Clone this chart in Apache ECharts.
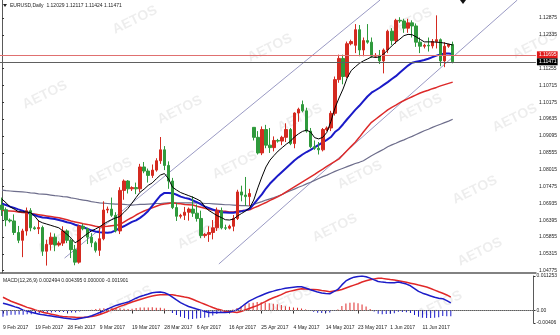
<!DOCTYPE html>
<html><head><meta charset="utf-8">
<script src="https://cdn.jsdelivr.net/npm/echarts@6/dist/echarts.min.js"></script>
<style>html,body{margin:0;padding:0;background:#fff}#c{width:560px;height:335px}</style>
</head><body><div id="c"></div><script>
const dates = ['9 Feb 2017','10 Feb 2017','12 Feb 2017','13 Feb 2017','14 Feb 2017','15 Feb 2017','16 Feb 2017','17 Feb 2017','19 Feb 2017','20 Feb 2017','21 Feb 2017','22 Feb 2017','23 Feb 2017','24 Feb 2017','26 Feb 2017','27 Feb 2017','28 Feb 2017',
'1 Mar 2017','2 Mar 2017','3 Mar 2017','5 Mar 2017','6 Mar 2017','7 Mar 2017','8 Mar 2017','9 Mar 2017','10 Mar 2017','12 Mar 2017','13 Mar 2017','14 Mar 2017','15 Mar 2017','16 Mar 2017','17 Mar 2017','19 Mar 2017','20 Mar 2017','21 Mar 2017','22 Mar 2017','23 Mar 2017','24 Mar 2017','26 Mar 2017','27 Mar 2017','28 Mar 2017','29 Mar 2017','30 Mar 2017','31 Mar 2017',
'2 Apr 2017','3 Apr 2017','4 Apr 2017','5 Apr 2017','6 Apr 2017','7 Apr 2017','9 Apr 2017','10 Apr 2017','11 Apr 2017','12 Apr 2017','13 Apr 2017','14 Apr 2017','16 Apr 2017','17 Apr 2017','18 Apr 2017','19 Apr 2017','20 Apr 2017','21 Apr 2017','23 Apr 2017','24 Apr 2017','25 Apr 2017','26 Apr 2017','27 Apr 2017','28 Apr 2017','30 Apr 2017',
'1 May 2017','2 May 2017','3 May 2017','4 May 2017','5 May 2017','7 May 2017','8 May 2017','9 May 2017','10 May 2017','11 May 2017','12 May 2017','14 May 2017','15 May 2017','16 May 2017','17 May 2017','18 May 2017','19 May 2017','21 May 2017','22 May 2017','23 May 2017','24 May 2017','25 May 2017','26 May 2017','28 May 2017','29 May 2017','30 May 2017','31 May 2017',
'1 Jun 2017','2 Jun 2017','4 Jun 2017','5 Jun 2017','6 Jun 2017','7 Jun 2017','8 Jun 2017','9 Jun 2017','11 Jun 2017','12 Jun 2017','13 Jun 2017','14 Jun 2017','15 Jun 2017','16 Jun 2017','18 Jun 2017','19 Jun 2017'];

const open = [1.0688,1.0673,1.0640,1.0637,1.0600,1.0575,1.0605,1.0670,1.0615,1.0612,
1.0616,1.0540,1.0562,1.0585,1.0560,1.0566,1.0605,1.0575,1.0545,1.0505,
1.0620,1.0612,1.0585,1.0567,1.0543,1.0580,1.0672,1.0675,1.0655,1.0605,
1.0735,1.0765,1.0740,1.0744,1.0740,1.0810,1.0797,1.0783,1.0800,1.0830,
1.0865,1.0815,1.0765,1.0680,1.0652,1.0655,1.0665,1.0675,1.0662,1.0645,
1.0590,1.0594,1.0600,1.0615,1.0670,1.0615,1.0614,1.0620,1.0645,1.0730,
1.0720,1.0715,1.0937,1.0905,1.0855,1.0930,1.0880,1.0872,1.0895,1.0893,
1.0905,1.0930,1.0885,1.0983,1.1010,1.0990,1.0925,1.0875,1.0870,1.0865,
1.0930,1.0935,1.0982,1.1090,1.1158,1.1100,1.1205,1.1200,1.1250,1.1185,
1.1215,1.1210,1.1165,1.1168,1.1150,1.1185,1.1245,1.1215,1.1280,1.1278,
1.1255,1.1272,1.1262,1.1210,1.1197,1.1200,1.1198,1.1212,1.1218,1.1150,
1.1197,1.12029];
const high = [1.0712,1.0680,1.0645,1.0658,1.0621,1.0612,1.0680,1.0678,1.0620,1.0640,
1.0622,1.0577,1.0600,1.0597,1.0572,1.0620,1.0610,1.0580,1.0560,1.0625,
1.0628,1.0615,1.0598,1.0572,1.0615,1.0700,1.0683,1.0712,1.0665,1.0745,
1.0770,1.0768,1.0748,1.0760,1.0820,1.0826,1.0805,1.0818,1.0838,1.0906,
1.0877,1.0828,1.0775,1.0695,1.0660,1.0682,1.0680,1.0716,1.0690,1.0670,
1.0598,1.0620,1.0640,1.0680,1.0680,1.0625,1.0625,1.0656,1.0737,1.0750,
1.0778,1.0740,1.0937,1.0925,1.0940,1.0945,1.0935,1.0908,1.0900,1.0910,
1.0950,1.0935,1.0985,1.1000,1.1023,1.1000,1.0935,1.0895,1.0890,1.0935,
1.0940,1.0990,1.1100,1.1170,1.1170,1.1212,1.1218,1.1268,1.1265,1.1225,
1.1268,1.1225,1.1175,1.1185,1.1190,1.1250,1.1255,1.1285,1.1290,1.1285,
1.1285,1.1280,1.1270,1.1225,1.1205,1.1225,1.1220,1.1296,1.1222,1.1210,
1.1205,1.12117];
const low = [1.0653,1.0620,1.0632,1.0592,1.0566,1.0521,1.0590,1.0604,1.0609,1.0595,
1.0525,1.0494,1.0542,1.0540,1.0555,1.0557,1.0566,1.0518,1.0495,1.0500,
1.0607,1.0563,1.0553,1.0536,1.0525,1.0575,1.0662,1.0650,1.0600,1.0595,
1.0705,1.0725,1.0733,1.0723,1.0730,1.0790,1.0760,1.0775,1.0795,1.0820,
1.0800,1.0740,1.0675,1.0637,1.0645,1.0640,1.0638,1.0650,1.0635,1.0582,
1.0583,1.0570,1.0578,1.0605,1.0610,1.0608,1.0610,1.0604,1.0640,1.0700,
1.0685,1.0685,1.0895,1.0850,1.0848,1.0870,1.0855,1.0860,1.0888,1.0880,
1.0890,1.0880,1.0870,1.0955,1.0985,1.0920,1.0870,1.0865,1.0850,1.0860,
1.0925,1.0925,1.0975,1.1080,1.1075,1.1095,1.1200,1.1175,1.1165,1.1165,
1.1205,1.1160,1.1160,1.1140,1.1110,1.1175,1.1200,1.1205,1.1272,1.1240,
1.1240,1.1225,1.1195,1.1175,1.1190,1.1180,1.1190,1.1190,1.1133,1.1130,
1.1192,1.11424];
const close = [1.0673,1.0640,1.0637,1.0600,1.0575,1.0605,1.0670,1.0615,1.0612,1.0616,
1.0540,1.0562,1.0585,1.0560,1.0566,1.0605,1.0575,1.0545,1.0505,1.0620,
1.0612,1.0585,1.0567,1.0543,1.0580,1.0672,1.0675,1.0655,1.0605,1.0735,
1.0765,1.0740,1.0744,1.0740,1.0810,1.0797,1.0783,1.0800,1.0830,1.0865,
1.0815,1.0765,1.0680,1.0652,1.0655,1.0665,1.0675,1.0662,1.0645,1.0590,
1.0594,1.0600,1.0615,1.0670,1.0615,1.0614,1.0620,1.0645,1.0730,1.0720,
1.0715,1.0725,1.0905,1.0855,1.0930,1.0880,1.0872,1.0895,1.0893,1.0905,
1.0930,1.0885,1.0983,1.0995,1.0990,1.0925,1.0875,1.0870,1.0865,1.0930,
1.0935,1.0982,1.1090,1.1158,1.1100,1.1205,1.1212,1.1250,1.1185,1.1215,
1.1210,1.1165,1.1168,1.1150,1.1185,1.1245,1.1215,1.1280,1.1278,1.1255,
1.1272,1.1262,1.1210,1.1197,1.1200,1.1198,1.1212,1.1218,1.1150,1.1197,
1.1203,1.11471];

const maBlack = [1.0707,1.0695,1.0682,1.0675,1.0667,1.0666,1.0666,1.0664,1.0653,1.0637,
1.0631,1.0627,1.0623,1.0619,1.0615,1.0605,1.0594,1.0582,1.0567,1.0575,
1.0586,1.0596,1.0605,1.0611,1.0618,1.0627,1.0635,1.0641,1.0647,1.0651,
1.0664,1.0677,1.0694,1.0712,1.0729,1.0739,1.0751,1.0759,1.0772,1.0784,
1.0789,1.0772,1.0745,1.0736,1.0728,1.0723,1.0718,1.0713,1.0707,1.0700,
1.0681,1.0670,1.0662,1.0654,1.0648,1.0641,1.0640,1.0643,1.0653,1.0661,
1.0669,1.0679,1.0704,1.0743,1.0778,1.0810,1.0832,1.0847,1.0861,1.0872,
1.0883,1.0892,1.0906,1.0916,1.0924,1.0928,1.0922,1.0904,1.0900,1.0905,
1.0921,1.0956,1.0999,1.1031,1.1060,1.1095,1.1119,1.1131,1.1142,1.1150,
1.1156,1.1163,1.1161,1.1163,1.1172,1.1185,1.1198,1.1210,1.1220,1.1231,
1.1235,1.1234,1.1227,1.1219,1.1211,1.1211,1.1211,1.1210,1.1209,1.1207,
1.1204,1.1201];
const maBlue = [1.0692,1.0688,1.0683,1.0679,1.0674,1.0670,1.0665,1.0660,1.0656,1.0651,
1.0648,1.0647,1.0645,1.0643,1.0640,1.0637,1.0633,1.0630,1.0625,1.0621,
1.0617,1.0612,1.0607,1.0603,1.0601,1.0600,1.0599,1.0601,1.0607,1.0614,
1.0620,1.0627,1.0634,1.0639,1.0647,1.0657,1.0669,1.0685,1.0702,1.0718,
1.0727,1.0727,1.0726,1.0721,1.0715,1.0711,1.0708,1.0703,1.0697,1.0690,
1.0683,1.0678,1.0673,1.0668,1.0665,1.0664,1.0663,1.0663,1.0666,1.0668,
1.0671,1.0676,1.0691,1.0707,1.0722,1.0741,1.0757,1.0770,1.0783,1.0795,
1.0807,1.0819,1.0831,1.0841,1.0850,1.0858,1.0865,1.0873,1.0881,1.0889,
1.0897,1.0906,1.0922,1.0932,1.0947,1.0963,1.0978,1.0993,1.1006,1.1021,
1.1036,1.1048,1.1056,1.1064,1.1073,1.1082,1.1092,1.1101,1.1113,1.1124,
1.1135,1.1144,1.1147,1.1150,1.1153,1.1157,1.1162,1.1167,1.1171,1.1174,
1.1174,1.1172];
const maRed = [1.0671,1.0670,1.0669,1.0668,1.0666,1.0664,1.0663,1.0661,1.0659,1.0657,
1.0655,1.0653,1.0651,1.0649,1.0647,1.0644,1.0641,1.0637,1.0634,1.0631,
1.0628,1.0626,1.0623,1.0620,1.0618,1.0619,1.0620,1.0622,1.0623,1.0625,
1.0633,1.0641,1.0648,1.0656,1.0663,1.0669,1.0674,1.0679,1.0684,1.0689,
1.0691,1.0693,1.0695,1.0693,1.0692,1.0690,1.0689,1.0688,1.0684,1.0681,
1.0678,1.0674,1.0672,1.0671,1.0669,1.0668,1.0666,1.0666,1.0668,1.0670,
1.0671,1.0673,1.0679,1.0684,1.0690,1.0696,1.0703,1.0709,1.0715,1.0722,
1.0730,1.0738,1.0746,1.0754,1.0762,1.0770,1.0778,1.0786,1.0795,1.0803,
1.0812,1.0820,1.0828,1.0836,1.0849,1.0863,1.0876,1.0889,1.0905,1.0922,
1.0938,1.0953,1.0963,1.0973,1.0983,1.0993,1.1001,1.1008,1.1016,1.1023,
1.1029,1.1035,1.1041,1.1047,1.1052,1.1056,1.1061,1.1065,1.1070,1.1074,
1.1078,1.1082];
const maGray = [1.0736,1.0734,1.0733,1.0732,1.0731,1.0730,1.0729,1.0727,1.0726,1.0724,
1.0723,1.0722,1.0720,1.0718,1.0717,1.0715,1.0714,1.0711,1.0709,1.0706,
1.0704,1.0702,1.0699,1.0697,1.0695,1.0694,1.0693,1.0692,1.0691,1.0691,
1.0690,1.0689,1.0688,1.0689,1.0690,1.0690,1.0691,1.0692,1.0693,1.0693,
1.0694,1.0695,1.0695,1.0695,1.0695,1.0695,1.0695,1.0695,1.0695,1.0694,
1.0693,1.0693,1.0692,1.0691,1.0690,1.0689,1.0689,1.0688,1.0687,1.0686,
1.0686,1.0685,1.0690,1.0695,1.0699,1.0704,1.0708,1.0712,1.0717,1.0722,
1.0728,1.0734,1.0739,1.0745,1.0750,1.0756,1.0761,1.0767,1.0773,1.0779,
1.0784,1.0790,1.0796,1.0801,1.0806,1.0811,1.0816,1.0821,1.0825,1.0830,
1.0838,1.0846,1.0853,1.0860,1.0867,1.0875,1.0881,1.0886,1.0892,1.0897,
1.0903,1.0908,1.0914,1.0920,1.0926,1.0931,1.0937,1.0942,1.0947,1.0952,
1.0957,1.0963];

const macdDif = [0.00235,0.00203,0.00164,0.00119,0.00080,0.00013,-0.00019,-0.00055,-0.00087,-0.00119,
-0.00141,-0.00161,-0.00180,-0.00199,-0.00222,-0.00244,-0.00260,-0.00276,-0.00286,-0.00260,
-0.00235,-0.00209,-0.00170,-0.00116,-0.00064,-0.00006,0.00055,0.00113,0.00167,0.00206,
0.00241,0.00276,0.00338,0.00402,0.00460,0.00498,0.00537,0.00579,0.00592,0.00604,
0.00582,0.00524,0.00434,0.00344,0.00260,0.00193,0.00132,0.00090,0.00051,0.00013,
-0.00026,-0.00064,-0.00064,-0.00064,-0.00064,-0.00064,-0.00058,-0.00019,0.00019,0.00106,
0.00212,0.00305,0.00370,0.00437,0.00492,0.00547,0.00595,0.00633,0.00672,0.00698,
0.00727,0.00746,0.00759,0.00772,0.00772,0.00736,0.00688,0.00646,0.00601,0.00572,
0.00559,0.00547,0.00617,0.00688,0.00836,0.00965,0.01035,0.01087,0.01110,0.011253,
0.01100,0.01055,0.01000,0.00948,0.00926,0.00916,0.00907,0.00907,0.00929,0.00894,
0.00862,0.00807,0.00717,0.00624,0.00566,0.00521,0.00476,0.00431,0.00399,0.00386,
0.00322,0.002494];
const macdDea = [0.00434,0.00367,0.00302,0.00254,0.00206,0.00154,0.00103,0.00064,0.00019,-0.00019,
-0.00061,-0.00090,-0.00119,-0.00148,-0.00177,-0.00199,-0.00206,-0.00212,-0.00219,-0.00225,
-0.00222,-0.00209,-0.00193,-0.00170,-0.00129,-0.00080,-0.00029,0.00026,0.00077,0.00135,
0.00180,0.00228,0.00276,0.00318,0.00360,0.00402,0.00440,0.00473,0.00498,0.00514,
0.00514,0.00514,0.00514,0.00489,0.00466,0.00440,0.00418,0.00367,0.00309,0.00257,
0.00206,0.00151,0.00100,0.00051,0.00016,-0.00023,-0.00042,-0.00051,-0.00061,-0.00032,
0.00016,0.00064,0.00113,0.00161,0.00225,0.00289,0.00360,0.00415,0.00466,0.00518,
0.00585,0.00624,0.00656,0.00685,0.00707,0.00701,0.00694,0.00688,0.00675,0.00653,
0.00633,0.00611,0.00633,0.00653,0.00685,0.00736,0.00784,0.00829,0.00874,0.00929,
0.00968,0.01003,0.01029,0.01055,0.01048,0.01029,0.01010,0.00993,0.00971,0.00945,
0.00919,0.00891,0.00862,0.00829,0.00797,0.00765,0.00717,0.00666,0.00614,0.00563,
0.00508,0.004395];
const macdHist = [-0.00199,-0.00164,-0.00138,-0.00135,-0.00126,-0.00141,-0.00122,-0.00119,-0.00106,-0.00100,
-0.00080,-0.00071,-0.00061,-0.00051,-0.00045,-0.00045,-0.00054,-0.00064,-0.00067,-0.00035,
-0.00013,0.00000,0.00023,0.00054,0.00065,0.00074,0.00084,0.00087,0.00090,0.00071,
0.00061,0.00048,0.00062,0.00084,0.00100,0.00096,0.00097,0.00106,0.00094,0.00090,
0.00068,0.00010,-0.00080,-0.00145,-0.00206,-0.00247,-0.00286,-0.00277,-0.00258,-0.00244,
-0.00232,-0.00215,-0.00164,-0.00115,-0.00080,-0.00041,-0.00016,0.00032,0.00080,0.00138,
0.00196,0.00241,0.00257,0.00276,0.00267,0.00258,0.00235,0.00218,0.00206,0.00180,
0.00142,0.00122,0.00103,0.00087,0.00065,0.00035,-0.00006,-0.00042,-0.00074,-0.00081,
-0.00074,-0.00064,-0.00016,0.00035,0.00151,0.00229,0.00251,0.00258,0.00236,0.00196,
0.00132,0.00052,-0.00029,-0.00107,-0.00122,-0.00113,-0.00103,-0.00086,-0.00042,-0.00051,
-0.00057,-0.00084,-0.00145,-0.00205,-0.00231,-0.00244,-0.00241,-0.00235,-0.00215,-0.00177,
-0.00186,-0.001901];

const priceTicks = [1.04775,1.05315,1.05855,1.06395,1.06935,1.07475,1.08015,1.08555,1.09095,1.09635,1.10175,1.10715,1.11255,1.12335,1.12875];
const macdTicks = [-0.00406,0,0.011253];
const macdTickText = ['-0.00406','0.00','0.011253'];
const levelPrice = 1.11695;
const bidPrice = 1.11471;
// trend channel anchors: [bar index, price]
const channelUpper = [[15.4,1.0518],[93.1,1.1345]];
const channelLower = [[53.4,1.0499],[126.9,1.1345]];
const titleText = 'EURUSD,Daily  1.12029 1.12117 1.11424 1.11471';
const macdTitle = 'MACD(12,26,9) 0.002494 0.004395 0.000000 -0.001901';
const PAD = 20;

const cats = dates.concat(Array(PAD).fill(''));
const candles = dates.map((d,i)=>[open[i],close[i],low[i],high[i]]);
const showIdx = (i,v)=> v!=='' && i%8===0;
const FONT = 'Liberation Sans';
const axisCol = '#5a5a5a';

const wm = [];
const wmPos = [[135,20],[270,48],[410,22],[535,45],[45,95],[180,110],[300,118],[420,108],[515,118],
[110,172],[235,165],[360,175],[475,190],[60,240],[200,235],[335,228],[480,252],[130,300],[290,300],[440,305]];
wmPos.forEach(p=>wm.push({type:'text',x:p[0],y:p[1],rotation:0.45,z:-10,silent:true,
  style:{text:'AETOS',fill:'rgba(0,0,0,0.07)',font:'bold 14px "Liberation Sans"',align:'center',verticalAlign:'middle'}}));

const chart = echarts.init(document.getElementById('c'),null,{renderer:'canvas'});
chart.setOption({
  animation:false,
  backgroundColor:'#ffffff',
  textStyle:{fontFamily:FONT},
  grid:[{left:0,right:21,top:0,height:273},{left:0,right:21,top:276,height:47}],
  xAxis:[
    {type:'category',gridIndex:0,data:cats,axisLine:{show:true,lineStyle:{color:axisCol,width:1.5}},axisTick:{show:false},axisLabel:{show:false},splitLine:{show:false}},
    {type:'category',gridIndex:1,data:cats,axisLine:{show:true,lineStyle:{color:axisCol,width:1}},
     axisTick:{show:true,alignWithLabel:true,interval:showIdx,length:3,lineStyle:{color:'#333'}},
     axisLabel:{interval:showIdx,fontSize:5,color:'#222',align:'left',margin:2,fontFamily:FONT},splitLine:{show:false}},
    {type:'value',gridIndex:0,min:-0.5,max:cats.length-0.5,show:false,position:'top'}
  ],
  yAxis:[
    {type:'value',gridIndex:0,position:'right',min:1.04702,max:1.13452,
     axisLine:{show:true,lineStyle:{color:axisCol}},
     axisTick:{show:true,customValues:priceTicks,length:2,lineStyle:{color:'#333'}},
     axisLabel:{customValues:priceTicks,formatter:v=>v.toFixed(5),fontSize:5,color:'#222',margin:3,fontFamily:FONT},
     splitLine:{show:false}},
    {type:'value',gridIndex:1,position:'right',min:-0.00406,max:0.011253,
     axisLine:{show:true,lineStyle:{color:axisCol}},
     axisTick:{show:true,customValues:macdTicks,length:2,lineStyle:{color:'#333'}},
     axisLabel:{customValues:macdTicks,formatter:v=>macdTickText[macdTicks.findIndex(t=>Math.abs(t-v)<1e-7)]||'',fontSize:5,color:'#222',margin:3,fontFamily:FONT},
     splitLine:{show:false}}
  ],
  series:[
    {type:'line',xAxisIndex:2,yAxisIndex:0,data:channelUpper,showSymbol:false,silent:true,lineStyle:{color:'#9a9ac4',width:1},z:1},
    {type:'line',xAxisIndex:2,yAxisIndex:0,data:channelLower,showSymbol:false,silent:true,lineStyle:{color:'#9a9ac4',width:1},z:1},
    {type:'line',xAxisIndex:0,yAxisIndex:0,data:maGray,showSymbol:false,lineStyle:{color:'#6e6e8c',width:1.2},z:2,
     markLine:{silent:true,symbol:['none','none'],animation:false,precision:6,
       data:[
        {yAxis:levelPrice,lineStyle:{color:'#e07070',width:1,type:'solid'},
         label:{show:true,position:'end',formatter:()=>levelPrice.toFixed(5),fontSize:5,color:'#fff',backgroundColor:'#e01818',padding:[1,1,1,2],distance:1,fontFamily:FONT}},
        {yAxis:bidPrice,lineStyle:{color:'#606060',width:1,type:'solid'},
         label:{show:true,position:'end',formatter:()=>bidPrice.toFixed(5),fontSize:5,color:'#fff',backgroundColor:'#000',padding:[1,1,1,2],distance:1,fontFamily:FONT}}
       ]}},
    {type:'line',xAxisIndex:0,yAxisIndex:0,data:maRed,showSymbol:false,lineStyle:{color:'#dd2a2a',width:1.5},z:2},
    {type:'line',xAxisIndex:0,yAxisIndex:0,data:maBlue,showSymbol:false,lineStyle:{color:'#1a1ac8',width:2},z:2},
    {type:'candlestick',xAxisIndex:0,yAxisIndex:0,data:candles,barWidth:3,z:3,
     itemStyle:{color:'#d42a20',color0:'#2f9a3c',borderColor:'#d42a20',borderColor0:'#2f9a3c',borderWidth:1}},
    {type:'line',xAxisIndex:0,yAxisIndex:0,data:maBlack,showSymbol:false,lineStyle:{color:'#000',width:1},z:4},
    {type:'bar',xAxisIndex:1,yAxisIndex:1,data:macdHist,barWidth:1,
     itemStyle:{color:p=>p.value>=0?'#dd2a2a':'#1a1ac8'},
     markLine:{silent:true,symbol:['none','none'],precision:6,data:[{yAxis:0}],label:{show:false},lineStyle:{color:'#999',type:'dotted',width:1}}},
    {type:'line',xAxisIndex:1,yAxisIndex:1,data:macdDea,showSymbol:false,lineStyle:{color:'#e02828',width:1.5}},
    {type:'line',xAxisIndex:1,yAxisIndex:1,data:macdDif,showSymbol:false,lineStyle:{color:'#1c1cc8',width:1.5}}
  ],
  graphic:wm.concat([
    {type:'polygon',shape:{points:[[3,4],[7,4],[5,7]]},style:{fill:'#222'}},
    {type:'text',x:10,y:3,style:{text:titleText,fill:'#222',font:'5px "Liberation Sans"'}},
    {type:'text',x:3,y:278,style:{text:macdTitle,fill:'#222',font:'5px "Liberation Sans"'}},
    {type:'polygon',shape:{points:[[460,0],[466,0],[463,4]]},style:{fill:'#111'}}
  ])
});
</script></body></html>
